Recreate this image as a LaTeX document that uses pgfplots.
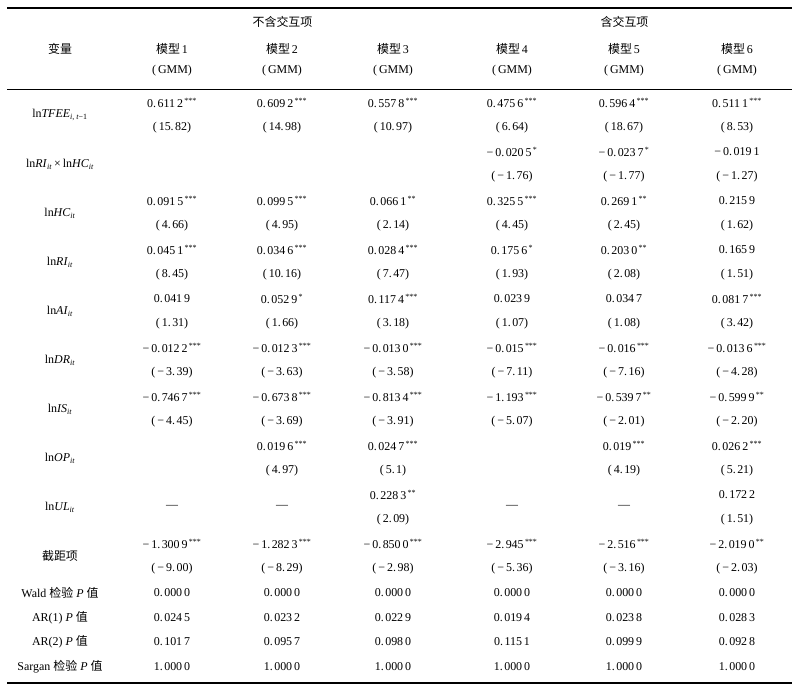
\documentclass[border=0pt]{standalone}
\usepackage{fontspec}
\setmainfont{Liberation Serif}
\newfontfamily\cjk{Noto Sans CJK SC}
\usepackage{pgfplots}
\pgfplotsset{compat=1.18}
\newcommand{\st}[1]{\textsuperscript{\,#1}}
\newcommand{\sub}[1]{\textsubscript{#1}}
\newcommand{\p}{.\kern1.5bp}
\begin{document}
\begin{tikzpicture}
\begin{axis}[
  scale only axis, width=797bp, height=695bp,
  xmin=0, xmax=797, ymin=0, ymax=695, y dir=reverse,
  hide axis, clip=false,
  cell/.style={draw=none, mark=none, nodes near coords, point meta=explicit symbolic,
    every node near coord/.append style={anchor=center, inner sep=0pt, font=\fontsize{12}{14}\selectfont, text=black}},
]
% invisible frame to fix the bounding box
\addplot[draw=none, mark=none] coordinates {(0,0) (797,695)};
% rules
\addplot[black, line width=1.5bp] coordinates {(7,8) (792,8)};
\addplot[black, line width=1bp] coordinates {(7,90) (792,90)};
\addplot[black, line width=2bp] coordinates {(7,683) (792,683)};
% header
\addplot[cell] coordinates {
 (282.5,22) [{\cjk 不含交互项}]
 (624.5,22) [{\cjk 含交互项}]
 (60,49) [{\cjk 变量}]
 (172,49) [{\cjk 模型\,\rmfamily 1}]
 (282,49) [{\cjk 模型\,\rmfamily 2}]
 (393,49) [{\cjk 模型\,\rmfamily 3}]
 (512,49) [{\cjk 模型\,\rmfamily 4}]
 (624,49) [{\cjk 模型\,\rmfamily 5}]
 (737,49) [{\cjk 模型\,\rmfamily 6}]
 (172,71) [{(\,GMM)}]
 (282,71) [{(\,GMM)}]
 (393,71) [{(\,GMM)}]
 (512,71) [{(\,GMM)}]
 (624,71) [{(\,GMM)}]
 (737,71) [{(\,GMM)}]
};
% row labels
\addplot[cell] coordinates {
 (60,115.25) [{ln\textit{TFEE}\sub{\textit{i}, \textit{t}−1}}]
 (60,164.25) [{ln\textit{RI}\sub{\textit{it}}\,×\,ln\textit{HC}\sub{\textit{it}}}]
 (60,213.25) [{ln\textit{HC}\sub{\textit{it}}}]
 (60,262.25) [{ln\textit{RI}\sub{\textit{it}}}]
 (60,311.25) [{ln\textit{AI}\sub{\textit{it}}}]
 (60,360.25) [{ln\textit{DR}\sub{\textit{it}}}]
 (60,409.25) [{ln\textit{IS}\sub{\textit{it}}}]
 (60,458.25) [{ln\textit{OP}\sub{\textit{it}}}]
 (60,507.25) [{ln\textit{UL}\sub{\textit{it}}}]
 (60,556.25) [{\cjk 截距项}]
 (60,593) [{Wald {\cjk 检验} \textit{P} {\cjk 值}}]
 (60,617.5) [{AR(1) \textit{P} {\cjk 值}}]
 (60,642) [{AR(2) \textit{P} {\cjk 值}}]
 (60,666.5) [{Sargan {\cjk 检验} \textit{P} {\cjk 值}}]
};
% model 1
\addplot[cell] coordinates {
 (172,103) [{0\p611\,2\st{***}}] (172,127.5) [{(\,15\p82)}]
 (172,201) [{0\p091\,5\st{***}}] (172,225.5) [{(\,4\p66)}]
 (172,250) [{0\p045\,1\st{***}}] (172,274.5) [{(\,8\p45)}]
 (172,299) [{0\p041\,9}] (172,323.5) [{(\,1\p31)}]
 (172,348) [{−\,0\p012\,2\st{***}}] (172,372.5) [{(\,−\,3\p39)}]
 (172,397) [{−\,0\p746\,7\st{***}}] (172,421.5) [{(\,−\,4\p45)}]
 (172,507.25) [{—}]
 (172,544) [{−\,1\p300\,9\st{***}}] (172,568.5) [{(\,−\,9\p00)}]
 (172,593) [{0\p000\,0}] (172,617.5) [{0\p024\,5}] (172,642) [{0\p101\,7}] (172,666.5) [{1\p000\,0}]
};
% model 2
\addplot[cell] coordinates {
 (282,103) [{0\p609\,2\st{***}}] (282,127.5) [{(\,14\p98)}]
 (282,201) [{0\p099\,5\st{***}}] (282,225.5) [{(\,4\p95)}]
 (282,250) [{0\p034\,6\st{***}}] (282,274.5) [{(\,10\p16)}]
 (282,299) [{0\p052\,9\st{*}}] (282,323.5) [{(\,1\p66)}]
 (282,348) [{−\,0\p012\,3\st{***}}] (282,372.5) [{(\,−\,3\p63)}]
 (282,397) [{−\,0\p673\,8\st{***}}] (282,421.5) [{(\,−\,3\p69)}]
 (282,446) [{0\p019\,6\st{***}}] (282,470.5) [{(\,4\p97)}]
 (282,507.25) [{—}]
 (282,544) [{−\,1\p282\,3\st{***}}] (282,568.5) [{(\,−\,8\p29)}]
 (282,593) [{0\p000\,0}] (282,617.5) [{0\p023\,2}] (282,642) [{0\p095\,7}] (282,666.5) [{1\p000\,0}]
};
% model 3
\addplot[cell] coordinates {
 (393,103) [{0\p557\,8\st{***}}] (393,127.5) [{(\,10\p97)}]
 (393,201) [{0\p066\,1\st{**}}] (393,225.5) [{(\,2\p14)}]
 (393,250) [{0\p028\,4\st{***}}] (393,274.5) [{(\,7\p47)}]
 (393,299) [{0\p117\,4\st{***}}] (393,323.5) [{(\,3\p18)}]
 (393,348) [{−\,0\p013\,0\st{***}}] (393,372.5) [{(\,−\,3\p58)}]
 (393,397) [{−\,0\p813\,4\st{***}}] (393,421.5) [{(\,−\,3\p91)}]
 (393,446) [{0\p024\,7\st{***}}] (393,470.5) [{(\,5\p1)}]
 (393,495) [{0\p228\,3\st{**}}] (393,519.5) [{(\,2\p09)}]
 (393,544) [{−\,0\p850\,0\st{***}}] (393,568.5) [{(\,−\,2\p98)}]
 (393,593) [{0\p000\,0}] (393,617.5) [{0\p022\,9}] (393,642) [{0\p098\,0}] (393,666.5) [{1\p000\,0}]
};
% model 4
\addplot[cell] coordinates {
 (512,103) [{0\p475\,6\st{***}}] (512,127.5) [{(\,6\p64)}]
 (512,152) [{−\,0\p020\,5\st{*}}] (512,176.5) [{(\,−\,1\p76)}]
 (512,201) [{0\p325\,5\st{***}}] (512,225.5) [{(\,4\p45)}]
 (512,250) [{0\p175\,6\st{*}}] (512,274.5) [{(\,1\p93)}]
 (512,299) [{0\p023\,9}] (512,323.5) [{(\,1\p07)}]
 (512,348) [{−\,0\p015\st{***}}] (512,372.5) [{(\,−\,7\p11)}]
 (512,397) [{−\,1\p193\st{***}}] (512,421.5) [{(\,−\,5\p07)}]
 (512,507.25) [{—}]
 (512,544) [{−\,2\p945\st{***}}] (512,568.5) [{(\,−\,5\p36)}]
 (512,593) [{0\p000\,0}] (512,617.5) [{0\p019\,4}] (512,642) [{0\p115\,1}] (512,666.5) [{1\p000\,0}]
};
% model 5
\addplot[cell] coordinates {
 (624,103) [{0\p596\,4\st{***}}] (624,127.5) [{(\,18\p67)}]
 (624,152) [{−\,0\p023\,7\st{*}}] (624,176.5) [{(\,−\,1\p77)}]
 (624,201) [{0\p269\,1\st{**}}] (624,225.5) [{(\,2\p45)}]
 (624,250) [{0\p203\,0\st{**}}] (624,274.5) [{(\,2\p08)}]
 (624,299) [{0\p034\,7}] (624,323.5) [{(\,1\p08)}]
 (624,348) [{−\,0\p016\st{***}}] (624,372.5) [{(\,−\,7\p16)}]
 (624,397) [{−\,0\p539\,7\st{**}}] (624,421.5) [{(\,−\,2\p01)}]
 (624,446) [{0\p019\st{***}}] (624,470.5) [{(\,4\p19)}]
 (624,507.25) [{—}]
 (624,544) [{−\,2\p516\st{***}}] (624,568.5) [{(\,−\,3\p16)}]
 (624,593) [{0\p000\,0}] (624,617.5) [{0\p023\,8}] (624,642) [{0\p099\,9}] (624,666.5) [{1\p000\,0}]
};
% model 6
\addplot[cell] coordinates {
 (737,103) [{0\p511\,1\st{***}}] (737,127.5) [{(\,8\p53)}]
 (737,152) [{−\,0\p019\,1}] (737,176.5) [{(\,−\,1\p27)}]
 (737,201) [{0\p215\,9}] (737,225.5) [{(\,1\p62)}]
 (737,250) [{0\p165\,9}] (737,274.5) [{(\,1\p51)}]
 (737,299) [{0\p081\,7\st{***}}] (737,323.5) [{(\,3\p42)}]
 (737,348) [{−\,0\p013\,6\st{***}}] (737,372.5) [{(\,−\,4\p28)}]
 (737,397) [{−\,0\p599\,9\st{**}}] (737,421.5) [{(\,−\,2\p20)}]
 (737,446) [{0\p026\,2\st{***}}] (737,470.5) [{(\,5\p21)}]
 (737,495) [{0\p172\,2}] (737,519.5) [{(\,1\p51)}]
 (737,544) [{−\,2\p019\,0\st{**}}] (737,568.5) [{(\,−\,2\p03)}]
 (737,593) [{0\p000\,0}] (737,617.5) [{0\p028\,3}] (737,642) [{0\p092\,8}] (737,666.5) [{1\p000\,0}]
};
\end{axis}
\end{tikzpicture}
\end{document}
